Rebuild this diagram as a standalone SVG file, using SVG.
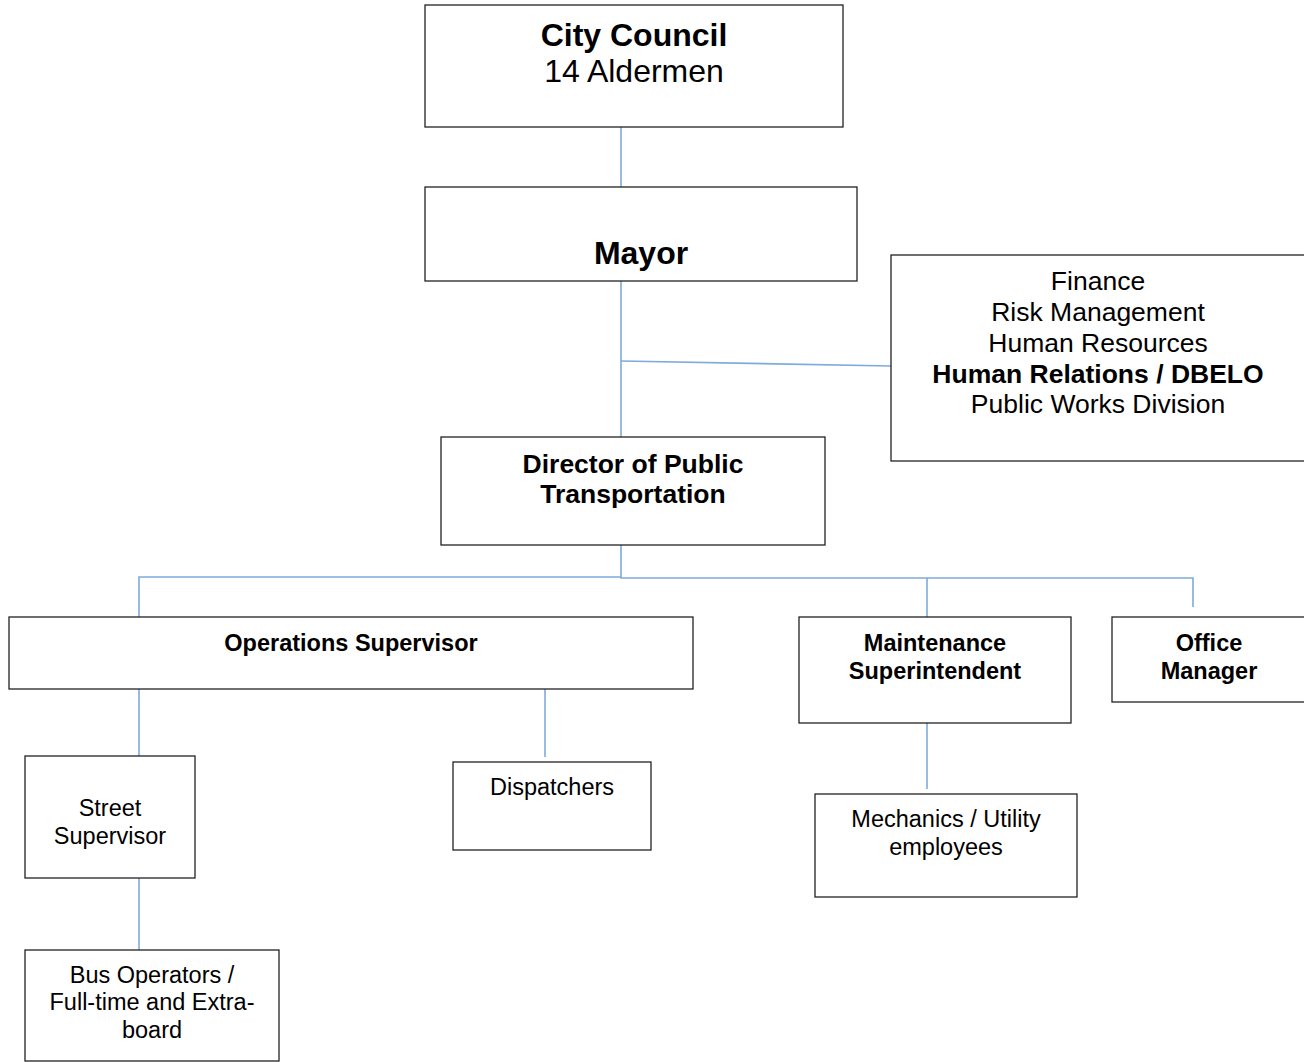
<svg xmlns="http://www.w3.org/2000/svg" width="1304" height="1062" viewBox="0 0 1304 1062">
<style>
.box{fill:#fff;stroke:#222;stroke-width:1.3}
.c{fill:none;stroke:#7eaadc;stroke-width:1.6}
text{font-family:"Liberation Sans",Arial,sans-serif;fill:#000;text-anchor:middle}
.b{font-weight:bold}
.s30{font-size:32px}
.s24{font-size:26.5px}
.s20{font-size:23.5px}
</style>
<rect width="1304" height="1062" fill="#fff"/>
<g id="connectors">
<path class="c" d="M621,127V187"/>
<path class="c" d="M621,281V437"/>
<path class="c" d="M621,361L891,366"/>
<path class="c" d="M621,545V577H139V617"/>
<path class="c" d="M621,577V578H1193V607"/>
<path class="c" d="M927,578V617"/>
<path class="c" d="M139,689V761"/>
<path class="c" d="M545,689V757"/>
<path class="c" d="M139,878V950"/>
<path class="c" d="M927,723V789"/>
</g>
<g id="city-council">
<rect class="box" x="425" y="5" width="418" height="122"/>
<text class="b s30" x="634" y="46">City Council</text>
<text class="s30" x="634" y="82">14 Aldermen</text>
</g>
<g id="mayor">
<rect class="box" x="425" y="187" width="432" height="94"/>
<text class="b s30" x="641" y="264">Mayor</text>
</g>
<g id="departments">
<rect class="box" x="891" y="255" width="420" height="206"/>
<text class="s24" x="1098" y="290">Finance</text>
<text class="s24" x="1098" y="321">Risk Management</text>
<text class="s24" x="1098" y="352">Human Resources</text>
<text class="b s24" x="1098" y="383">Human Relations / DBELO</text>
<text class="s24" x="1098" y="413">Public Works Division</text>
</g>
<g id="director">
<rect class="box" x="441" y="437" width="384" height="108"/>
<text class="b s24" x="633" y="473">Director of Public</text>
<text class="b s24" x="633" y="503">Transportation</text>
</g>
<g id="operations-supervisor">
<rect class="box" x="9" y="617" width="684" height="72"/>
<text class="b s20" x="351" y="651">Operations Supervisor</text>
</g>
<g id="maintenance-superintendent">
<rect class="box" x="799" y="617" width="272" height="106"/>
<text class="b s20" x="935" y="651">Maintenance</text>
<text class="b s20" x="935" y="679">Superintendent</text>
</g>
<g id="office-manager">
<rect class="box" x="1112" y="617" width="200" height="85"/>
<text class="b s20" x="1209" y="651">Office</text>
<text class="b s20" x="1209" y="679">Manager</text>
</g>
<g id="street-supervisor">
<rect class="box" x="25" y="756" width="170" height="122"/>
<text class="s20" x="110" y="816">Street</text>
<text class="s20" x="110" y="844">Supervisor</text>
</g>
<g id="dispatchers">
<rect class="box" x="453" y="762" width="198" height="88"/>
<text class="s20" x="552" y="795">Dispatchers</text>
</g>
<g id="bus-operators">
<rect class="box" x="25" y="950" width="254" height="111"/>
<text class="s20" x="152" y="983">Bus Operators /</text>
<text class="s20" x="152" y="1010">Full-time and Extra-</text>
<text class="s20" x="152" y="1038">board</text>
</g>
<g id="mechanics">
<rect class="box" x="815" y="794" width="262" height="103"/>
<text class="s20" x="946" y="827">Mechanics / Utility</text>
<text class="s20" x="946" y="855">employees</text>
</g>
</svg>
